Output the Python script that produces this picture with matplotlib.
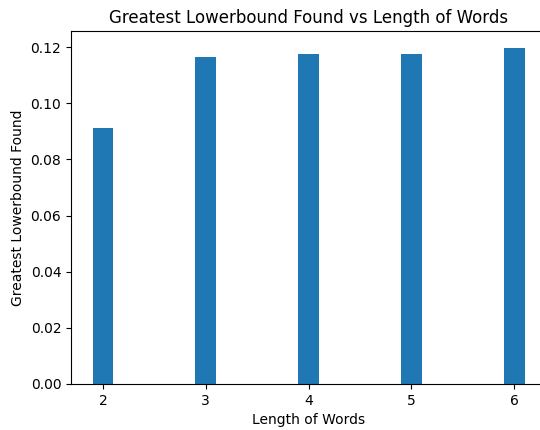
import matplotlib
matplotlib.use('Agg')
import matplotlib.pyplot as plt

word_lengths = [2, 3, 4, 5, 6]
lowerbounds = [0.0912, 0.1164, 0.1175, 0.1175, 0.1198]

fig = plt.figure(figsize=(5.4, 4.3), dpi=100)
ax = fig.add_axes([0.1315, 0.107, 0.88, 0.821])
ax.bar(word_lengths, lowerbounds, width=0.2, color='#1f77b4')
ax.set_title('Greatest Lowerbound Found vs Length of Words')
ax.set_xlabel('Length of Words')
ax.set_ylabel('Greatest Lowerbound Found')
fig.savefig('out.png', dpi=100)
